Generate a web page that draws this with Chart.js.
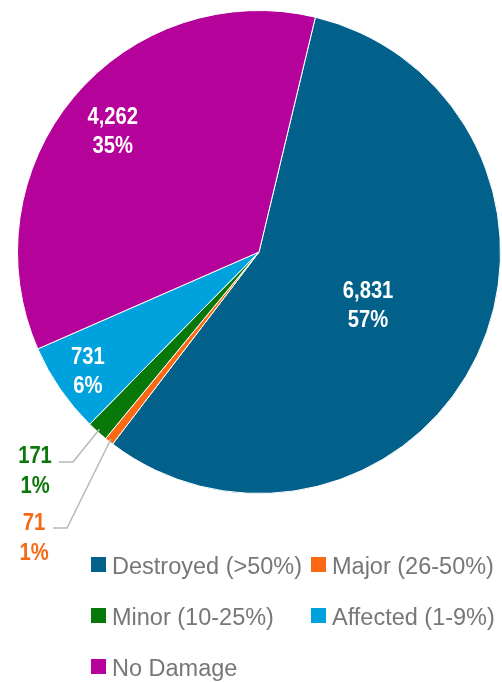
<!DOCTYPE html>
<html>
<head>
<meta charset="utf-8">
<script src="https://cdn.jsdelivr.net/npm/chart.js@4"></script>
<style>
  html, body { margin: 0; padding: 0; background: #fff; }
  #wrap { width: 502px; height: 682px; }
</style>
</head>
<body>
<div id="wrap"><canvas id="damageChart" width="502" height="682"></canvas></div>
<script>
// Damage categories and counts (clockwise from the Destroyed slice)
const categories = ['Destroyed (>50%)', 'Major (26-50%)', 'Minor (10-25%)', 'Affected (1-9%)', 'No Damage'];
const counts = [6831, 71, 171, 731, 4262];
const sliceColors = ['#02618a', '#fb6a12', '#08780b', '#00a2dd', '#b4029a'];
const labelColors = ['#ffffff', '#f56a17', '#0b780b', '#ffffff', '#ffffff'];

// where each value label goes: inside the slice, or outside with a leader line
const labelPlacement = [
    { inside: true, frac: 0.5 },
    { inside: false, x: 34, y: 530, lineY: 528, lineFrom: 53, lineTo: 67 },
    { inside: false, x: 35, y: 463, lineY: 462, lineFrom: 59, lineTo: 73 },
    { inside: true, frac: 0.86 },
    { inside: true, frac: 0.79 }
];

// Legend grid (two columns)
const legendCols = [91, 311];
const legendRows = [557, 608, 659];

const total = counts.reduce((a, b) => a + b, 0);

function drawTwoLines(ctx, x, y, line1, line2, color) {
    ctx.save();
    ctx.fillStyle = color;
    ctx.font = 'bold 23.5px "Liberation Sans", Arial, sans-serif';
    ctx.textAlign = 'center';
    ctx.textBaseline = 'alphabetic';
    ctx.translate(x, 0);
    ctx.scale(0.86, 1);
    ctx.fillText(line1, 0, y);
    ctx.fillText(line2, 0, y + 29.5);
    ctx.restore();
}

const valueLabels = {
    id: 'valueLabels',
    afterDatasetsDraw(chart) {
        const ctx = chart.ctx;
        const meta = chart.getDatasetMeta(0);
        meta.data.forEach((arc, i) => {
            const p = arc.getProps(['x', 'y', 'startAngle', 'endAngle', 'outerRadius'], true);
            const mid = (p.startAngle + p.endAngle) / 2;
            const value = counts[i];
            const line1 = value.toLocaleString('en-US');
            const line2 = Math.round(value / total * 100) + '%';
            const place = labelPlacement[i];
            if (place.inside) {
                const cx = p.x + Math.cos(mid) * p.outerRadius * place.frac;
                const cy = p.y + Math.sin(mid) * p.outerRadius * place.frac;
                drawTwoLines(ctx, cx, cy - 6, line1, line2, labelColors[i]);
            } else {
                // leader line from label to slice edge
                const ex = p.x + Math.cos(mid) * (p.outerRadius - 3);
                const ey = p.y + Math.sin(mid) * (p.outerRadius - 3);
                ctx.save();
                ctx.strokeStyle = '#b8b8b8';
                ctx.lineWidth = 1.5;
                ctx.beginPath();
                ctx.moveTo(place.lineFrom, place.lineY);
                ctx.lineTo(place.lineTo, place.lineY);
                ctx.lineTo(ex, ey);
                ctx.stroke();
                ctx.restore();
                drawTwoLines(ctx, place.x, place.y, line1, line2, labelColors[i]);
            }
        });
    }
};

const gridLegend = {
    id: 'gridLegend',
    afterDraw(chart) {
        const ctx = chart.ctx;
        ctx.save();
        ctx.font = '23.5px "Liberation Sans", Arial, sans-serif';
        ctx.textBaseline = 'alphabetic';
        ctx.textAlign = 'left';
        categories.forEach((name, i) => {
            const x = legendCols[i % 2];
            const y = legendRows[Math.floor(i / 2)];
            ctx.fillStyle = sliceColors[i];
            ctx.fillRect(x, y, 15, 15);
            ctx.fillStyle = '#76777a';
            ctx.fillText(name, x + 21, y + 16.5);
        });
        ctx.restore();
    }
};

new Chart(document.getElementById('damageChart'), {
    type: 'pie',
    data: {
        labels: categories,
        datasets: [{
            data: counts,
            backgroundColor: sliceColors,
            borderColor: '#ffffff',
            borderWidth: 1
        }]
    },
    options: {
        responsive: false,
        animation: false,
        rotation: 13.5,
        layout: { padding: { left: 16, right: 0, top: 10, bottom: 188 } },
        plugins: {
            legend: { display: false },
            tooltip: { enabled: false }
        }
    },
    plugins: [valueLabels, gridLegend]
});
</script>
</body>
</html>
